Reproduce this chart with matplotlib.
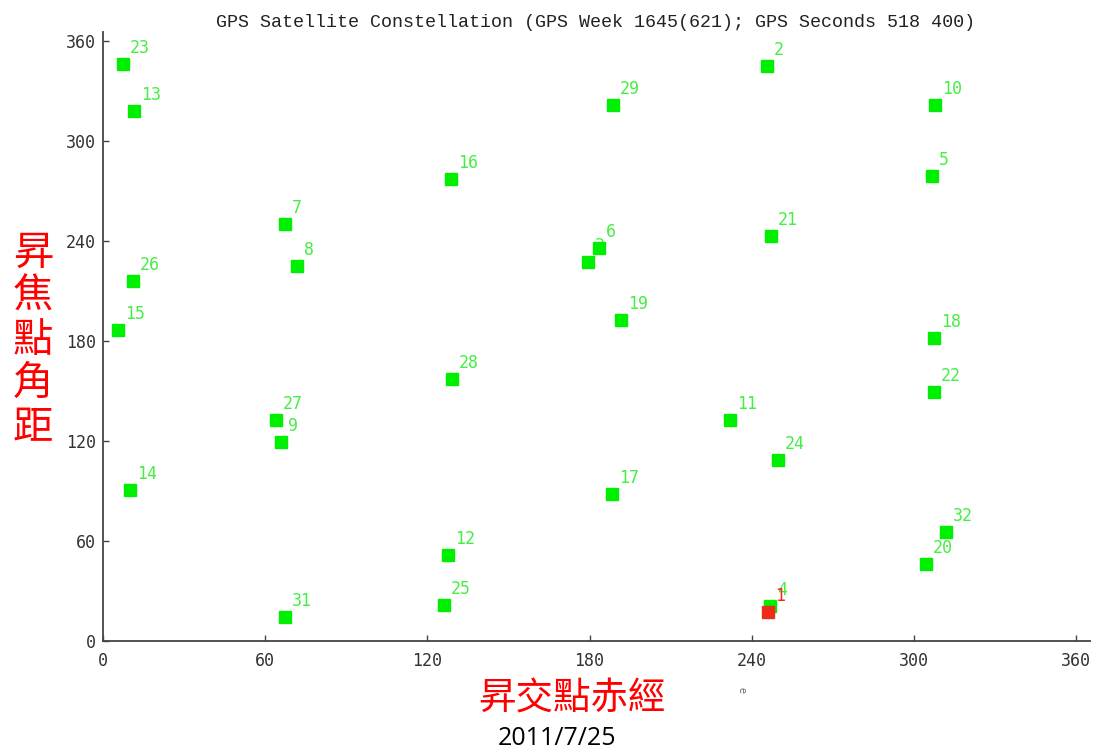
import matplotlib
matplotlib.use("Agg")
import matplotlib.pyplot as plt

# Satellite PRN numbers and orbital positions (degrees)
prn = [23, 13, 26, 15, 14, 7, 8, 27, 9, 31, 16, 28, 12, 25, 29, 6, 3, 19, 17,
       2, 21, 11, 24, 4, 10, 5, 18, 22, 32, 20, 1]
raan = [7.4, 11.5, 11.1, 5.5, 10.0, 67.3, 71.8, 64.0, 65.9, 67.3, 128.7, 129.1,
        127.6, 126.2, 188.7, 183.5, 179.4, 191.6, 188.3, 245.7, 247.1, 232.0,
        249.7, 246.8, 307.8, 306.7, 307.4, 307.4, 311.9, 304.5, 246.0]
arg_lat = [346.0, 318.0, 216.0, 186.5, 90.5, 250.0, 225.0, 132.5, 119.3, 14.4,
           277.0, 157.0, 51.6, 21.6, 321.4, 235.7, 227.3, 192.5, 88.2, 344.8,
           242.9, 132.5, 108.5, 21.0, 321.4, 278.9, 181.7, 149.3, 65.4, 46.2,
           17.4]
highlight = [1]

ticks = [0, 60, 120, 180, 240, 300, 360]
title = "GPS Satellite Constellation (GPS Week 1645(621); GPS Seconds 518\u2009400)"
xlabel = "昇交點赤經"
ylabel = "昇焦點角距"
date_text = "2011/7/25"

GREEN = "#00ee00"
GREEN_TXT = "#44ee44"
RED = "#ee2a1a"

fig = plt.figure(figsize=(10.93, 7.51), dpi=100)
ax = fig.add_axes([0.0942, 0.1465, 0.9027, 0.8104])
ax.set_xlim(0, 365)
ax.set_ylim(0, 365)

for p, x, y in zip(prn, raan, arg_lat):
    hot = p in highlight
    col = RED if hot else GREEN
    ax.plot(x, y, marker="s", ms=8, mfc=col, mec=col, ls="none",
            zorder=4 if hot else 3, clip_on=False)
    ax.annotate(str(p), (x, y), xytext=(5, 5), textcoords="offset points",
                ha="left", va="bottom", fontsize=12, family="DejaVu Sans Mono",
                color=RED if hot else GREEN_TXT, zorder=4 if hot else 2)

for side in ("top", "right"):
    ax.spines[side].set_visible(False)
for side in ("left", "bottom"):
    ax.spines[side].set_color("#444444")
    ax.spines[side].set_linewidth(1.3)

ax.set_xticks(ticks)
ax.set_yticks(ticks)
ax.tick_params(direction="in", length=4, width=1, color="#444444",
               labelsize=12, labelcolor="#333333")
ax.tick_params(axis="x", pad=8)
ax.tick_params(axis="y", pad=5)
for lab in ax.get_xticklabels() + ax.get_yticklabels():
    lab.set_family("DejaVu Sans Mono")

fig.text(0.545, 0.970, title, ha="center", va="center", fontsize=13.2,
         family=["Liberation Mono", "DejaVu Sans Mono"], color="#222222")

cjk = ["Noto Sans CJK TC", "DejaVu Sans"]
fig.text(0.030, 0.547, "\n".join(ylabel), ha="center", va="center",
         fontsize=29, color="red", family=cjk, linespacing=1.08)
fig.text(0.523, 0.069, xlabel, ha="center", va="center", fontsize=27,
         color="red", family=cjk)
fig.text(0.678, 0.081, "e", ha="center", va="center", fontsize=7,
         color="#666666", rotation=-90)
fig.text(0.510, 0.017, date_text, ha="center", va="center", fontsize=18,
         color="black", family="Open Sans")

fig.savefig("out.png", dpi=100)
